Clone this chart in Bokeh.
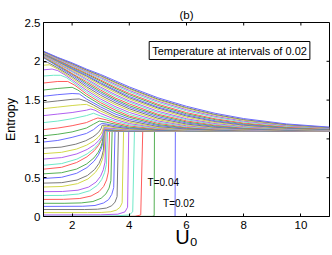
import math
from bokeh.plotting import figure
from bokeh.models import Range1d, FixedTicker, Label, ColumnDataSource
from bokeh.embed import file_html
from bokeh.resources import INLINE

# ---------------- data ----------------
temperatures = [0.02, 0.04, 0.06, 0.08, 0.10, 0.12, 0.14, 0.16, 0.18, 0.20,
                0.22, 0.24, 0.26, 0.28, 0.30, 0.32, 0.34, 0.36, 0.38, 0.40,
                0.42, 0.44, 0.46, 0.48, 0.50, 0.52, 0.54, 0.56, 0.58, 0.60,
                0.62, 0.64, 0.66, 0.68, 0.70, 0.72, 0.74, 0.76, 0.78, 0.80,
                0.82, 0.84, 0.86, 0.88, 0.90, 0.92, 0.94, 0.96, 0.98, 1.00]

U_002 = [1, 5.60, 5.61, 11]
S_002 = [0, 0, 1.10, 1.10]
U_004 = [1, 4.80, 4.87, 4.88, 11]
S_004 = [0, 0.002, 0.01, 1.10, 1.10]
U_006 = [1, 4.20, 4.40, 4.47, 11]
S_006 = [0, 0.002, 0.02, 1.10, 1.10]
U_008 = [1, 3.50, 4.00, 4.12, 4.18, 11]
S_008 = [0.005, 0.008, 0.02, 0.06, 1.10, 1.10]
U_010 = [1, 3.00, 3.60, 3.85, 3.94, 3.98, 11]
S_010 = [0.02, 0.022, 0.03, 0.06, 0.12, 1.10, 1.10]
U_012 = [1, 2.54, 3.016, 3.352, 3.548, 3.674, 3.75, 3.80, 11]
S_012 = [0.05, 0.05, 0.052, 0.061, 0.082, 0.118, 0.176, 1.10, 1.10]
U_014 = [1, 2.441, 2.886, 3.201, 3.384, 3.502, 3.573, 3.62, 11]
S_014 = [0.09, 0.09, 0.094, 0.109, 0.138, 0.186, 0.256, 1.10, 1.10]
U_016 = [1, 2.375, 2.80, 3.10, 3.275, 3.388, 3.455, 3.50, 11]
S_016 = [0.13, 0.132, 0.142, 0.174, 0.217, 0.285, 0.373, 1.10, 1.10]
U_018 = [1, 1.72, 2.32, 2.728, 3.016, 3.184, 3.292, 3.357, 3.40, 11]
S_018 = [0.17, 0.17, 0.175, 0.193, 0.235, 0.292, 0.366, 0.463, 1.10, 1.10]
U_020 = [1, 1.693, 2.271, 2.663, 2.940, 3.102, 3.206, 3.268, 3.31, 11]
S_020 = [0.22, 0.221, 0.232, 0.264, 0.32, 0.387, 0.471, 0.572, 1.10, 1.10]
U_022 = [1, 1.672, 2.232, 2.613, 2.882, 3.038, 3.139, 3.200, 3.24, 11]
S_022 = [0.27, 0.272, 0.29, 0.332, 0.401, 0.478, 0.569, 0.673, 1.10, 1.10]
U_024 = [1, 1.657, 2.205, 2.577, 2.840, 2.993, 3.091, 3.150, 3.19, 11]
S_024 = [0.32, 0.322, 0.339, 0.379, 0.444, 0.517, 0.602, 0.700, 1.103, 1.10]
U_026 = [1, 1.648, 2.188, 2.555, 2.814, 2.966, 3.063, 3.121, 3.16, 4, 11]
S_026 = [0.38, 0.387, 0.423, 0.484, 0.568, 0.650, 0.739, 0.832, 1.105, 1.101, 1.10]
U_028 = [1, 1.639, 2.172, 2.534, 2.789, 2.938, 3.034, 3.092, 3.13, 3.5, 4, 11]
S_028 = [0.43, 0.436, 0.47, 0.528, 0.606, 0.683, 0.766, 0.853, 1.108, 1.103, 1.101, 1.10]
U_030 = [1, 1.633, 2.161, 2.519, 2.772, 2.920, 3.015, 3.072, 3.11, 3.5, 4, 5, 11]
S_030 = [0.49, 0.505, 0.557, 0.630, 0.714, 0.793, 0.869, 0.945, 1.113, 1.106, 1.102, 1.10, 1.10]
U_032 = [1, 1.63, 2.155, 2.512, 2.764, 2.911, 3.006, 3.062, 3.10, 3.5, 4, 5, 11]
S_032 = [0.55, 0.564, 0.611, 0.678, 0.755, 0.827, 0.897, 0.966, 1.12, 1.111, 1.104, 1.10, 1.10]
U_034 = [1, 1.633, 2.161, 2.519, 2.772, 2.920, 3.015, 3.072, 3.11, 3.5, 4, 5, 11]
S_034 = [0.61, 0.634, 0.696, 0.769, 0.848, 0.914, 0.976, 1.032, 1.13, 1.117, 1.107, 1.101, 1.10]
U_036 = [1, 1.636, 2.166, 2.526, 2.781, 2.929, 3.025, 3.082, 3.12, 3.5, 4, 5, 7, 11]
S_036 = [0.66, 0.682, 0.739, 0.807, 0.879, 0.941, 0.997, 1.049, 1.14, 1.124, 1.112, 1.103, 1.10, 1.10]
U_038 = [1, 1.636, 2.166, 2.526, 2.781, 2.929, 3.025, 3.082, 3.12, 3.5, 4, 5, 6, 11]
S_038 = [0.74, 0.759, 0.807, 0.864, 0.925, 0.977, 1.025, 1.068, 1.145, 1.133, 1.117, 1.105, 1.101, 1.10]
U_040 = [1, 1.63, 2.155, 2.512, 2.764, 2.911, 3.006, 3.062, 3.10, 3.3, 3.5, 4, 5, 6, 11]
S_040 = [0.81, 0.827, 0.869, 0.92, 0.975, 1.021, 1.063, 1.102, 1.165, 1.157, 1.144, 1.124, 1.107, 1.102, 1.10]
U_042 = [1, 1.615, 2.128, 2.476, 2.722, 2.866, 2.958, 3.013, 3.05, 3.2, 3.5, 4, 5, 6, 11]
S_042 = [0.88, 0.894, 0.932, 0.976, 1.024, 1.064, 1.101, 1.135, 1.175, 1.178, 1.155, 1.132, 1.11, 1.104, 1.10]
U_044 = [1, 1.5, 2, 2.5, 2.75, 2.95, 3.05, 3.3, 3.6, 4, 5, 6, 11]
S_044 = [0.96, 0.98, 1.02, 1.07, 1.12, 1.18, 1.20, 1.185, 1.165, 1.141, 1.115, 1.105, 1.10]
U_046 = [1, 1.5, 2, 2.5, 2.75, 2.95, 3.2, 3.5, 4, 5, 6, 7, 11]
S_046 = [1.04, 1.06, 1.09, 1.14, 1.19, 1.23, 1.215, 1.19, 1.151, 1.12, 1.107, 1.103, 1.10]
U_048 = [1, 1.5, 2, 2.5, 2.75, 2.9, 3.2, 3.5, 4, 5, 6, 7, 11]
S_048 = [1.12, 1.14, 1.17, 1.21, 1.25, 1.27, 1.245, 1.208, 1.167, 1.125, 1.11, 1.104, 1.10]
U_050 = [1, 1.5, 2, 2.5, 2.75, 3, 3.5, 4, 5, 6, 7, 8, 11]
S_050 = [1.21, 1.23, 1.26, 1.30, 1.33, 1.295, 1.23, 1.182, 1.133, 1.113, 1.105, 1.102, 1.10]
U_052 = [1, 1.5, 2, 2.5, 2.65, 2.8, 3, 3.5, 4, 5, 6, 7, 8, 11]
S_052 = [1.30, 1.32, 1.34, 1.37, 1.385, 1.37, 1.328, 1.252, 1.198, 1.141, 1.118, 1.107, 1.103, 1.10]
U_054 = [1, 1.5, 2, 2.3, 2.5, 2.75, 3, 3.5, 4, 5, 6, 7, 8, 11]
S_054 = [1.39, 1.41, 1.43, 1.44, 1.445, 1.405, 1.358, 1.275, 1.216, 1.148, 1.122, 1.11, 1.105, 1.10]
U_056 = [1, 1.5, 2, 2.25, 2.5, 2.75, 3, 3.5, 4, 5, 6, 7, 8, 11]
S_056 = [1.47, 1.49, 1.51, 1.515, 1.485, 1.436, 1.385, 1.294, 1.234, 1.159, 1.127, 1.113, 1.106, 1.10]
U_058 = [1, 1.5, 2, 2.25, 2.5, 3, 3.5, 4, 5, 6, 7, 8, 9.5, 11]
S_058 = [1.55, 1.57, 1.585, 1.58, 1.515, 1.412, 1.322, 1.256, 1.173, 1.134, 1.117, 1.108, 1.103, 1.10]
U_060 = [1, 1.5, 2, 2.2, 2.5, 3, 3.5, 4, 5, 6, 7, 8, 9.5, 11]
S_060 = [1.63, 1.65, 1.665, 1.63, 1.551, 1.44, 1.349, 1.278, 1.185, 1.141, 1.121, 1.11, 1.104, 1.10]
U_062 = [1, 1.5, 1.85, 2.1, 2.5, 3, 3.5, 4, 5, 6, 7, 8, 9.5, 11]
S_062 = [1.72, 1.74, 1.74, 1.69, 1.579, 1.466, 1.374, 1.295, 1.201, 1.148, 1.125, 1.113, 1.104, 1.10]
U_064 = [1, 1.35, 1.6, 1.8, 2, 2.5, 3, 3.5, 4, 5, 6, 7, 8, 9.5, 11]
S_064 = [1.81, 1.82, 1.82, 1.79, 1.738, 1.604, 1.489, 1.396, 1.317, 1.214, 1.159, 1.13, 1.116, 1.106, 1.102]
U_066 = [1, 1.3, 1.5, 1.75, 2, 2.5, 3, 3.5, 4, 5, 6, 7, 8, 9.5, 11]
S_066 = [1.89, 1.90, 1.88, 1.825, 1.76, 1.628, 1.513, 1.418, 1.341, 1.231, 1.169, 1.136, 1.119, 1.107, 1.103]
U_068 = [1, 1.2, 1.5, 2, 2.5, 3, 3.5, 4, 5, 6, 7, 8, 9.5, 11]
S_068 = [1.95, 1.955, 1.90, 1.782, 1.652, 1.537, 1.445, 1.366, 1.248, 1.18, 1.143, 1.124, 1.109, 1.104]
U_070 = [1, 1.15, 1.5, 2, 2.5, 3, 3.5, 4, 5, 6, 7, 8, 9.5, 11]
S_070 = [1.99, 1.985, 1.915, 1.801, 1.674, 1.562, 1.468, 1.388, 1.266, 1.192, 1.15, 1.128, 1.112, 1.105]

# shared U grid for the high-temperature curves
U_GRID = [1, 1.5, 2, 2.5, 3, 3.5, 4, 5, 6, 7, 8, 9.5, 11]
S_072 = [2.046, 1.933, 1.82, 1.698, 1.587, 1.491, 1.409, 1.285, 1.205, 1.159, 1.134, 1.115, 1.106]
S_074 = [2.053, 1.945, 1.836, 1.718, 1.608, 1.51, 1.429, 1.303, 1.218, 1.168, 1.139, 1.118, 1.108]
S_076 = [2.061, 1.957, 1.842, 1.738, 1.629, 1.529, 1.451, 1.318, 1.232, 1.177, 1.143, 1.121, 1.109]
S_078 = [2.069, 1.969, 1.862, 1.758, 1.65, 1.554, 1.473, 1.339, 1.247, 1.187, 1.15, 1.124, 1.111]
S_080 = [2.076, 1.978, 1.874, 1.774, 1.667, 1.573, 1.49, 1.357, 1.26, 1.198, 1.159, 1.128, 1.114]
S_082 = [2.084, 1.989, 1.887, 1.794, 1.691, 1.598, 1.512, 1.38, 1.278, 1.211, 1.169, 1.133, 1.117]
S_084 = [2.09, 1.998, 1.90, 1.81, 1.71, 1.618, 1.53, 1.398, 1.295, 1.224, 1.177, 1.138, 1.12]
S_086 = [2.095, 2.004, 1.910, 1.822, 1.724, 1.632, 1.547, 1.411, 1.308, 1.233, 1.185, 1.143, 1.122]
S_088 = [2.10, 2.012, 1.922, 1.837, 1.744, 1.652, 1.569, 1.431, 1.324, 1.248, 1.195, 1.147, 1.125]
S_090 = [2.105, 2.018, 1.932, 1.848, 1.758, 1.667, 1.586, 1.447, 1.339, 1.259, 1.204, 1.154, 1.129]
S_092 = [2.11, 2.027, 1.945, 1.861, 1.777, 1.688, 1.608, 1.469, 1.361, 1.277, 1.217, 1.163, 1.134]
S_094 = [2.115, 2.033, 1.954, 1.872, 1.792, 1.705, 1.625, 1.486, 1.377, 1.291, 1.229, 1.170, 1.138]
S_096 = [2.12, 2.04, 1.964, 1.883, 1.806, 1.722, 1.642, 1.503, 1.393, 1.305, 1.24, 1.178, 1.143]
S_098 = [2.125, 2.044, 1.970, 1.889, 1.816, 1.733, 1.653, 1.514, 1.404, 1.315, 1.249, 1.184, 1.147]
S_100 = [2.13, 2.05, 1.98, 1.90, 1.83, 1.75, 1.67, 1.53, 1.42, 1.33, 1.262, 1.193, 1.152]

curves_u = [U_002, U_004, U_006, U_008, U_010, U_012, U_014, U_016, U_018, U_020,
            U_022, U_024, U_026, U_028, U_030, U_032, U_034, U_036, U_038, U_040,
            U_042, U_044, U_046, U_048, U_050, U_052, U_054, U_056, U_058, U_060,
            U_062, U_064, U_066, U_068, U_070] + [U_GRID] * 15
curves_s = [S_002, S_004, S_006, S_008, S_010, S_012, S_014, S_016, S_018, S_020,
            S_022, S_024, S_026, S_028, S_030, S_032, S_034, S_036, S_038, S_040,
            S_042, S_044, S_046, S_048, S_050, S_052, S_054, S_056, S_058, S_060,
            S_062, S_064, S_066, S_068, S_070, S_072, S_074, S_076, S_078, S_080,
            S_082, S_084, S_086, S_088, S_090, S_092, S_094, S_096, S_098, S_100]

# MATLAB-like colour order b, g, r, c, m, y, k (as they appear, lightened)
color_cycle = ["#6b6bff", "#55b055", "#ff5c5c", "#6fe8c8", "#b060f0", "#d2d84a", "#7a7a7a"]

x_ticks = [2, 4, 6, 8, 10]
x_tick_labels = ["2", "4", "6", "8", "10"]
y_ticks = [0, 0.5, 1, 1.5, 2, 2.5]
y_tick_labels = ["0", "0.5", "1", "1.5", "2", "2.5"]
x_min, x_max = 1, 11
y_min, y_max = 0, 2.5

FONT = "Liberation Sans"

# ---------------- figure ----------------
p = figure(width=332, height=255, output_backend="svg", toolbar_location=None,
           x_range=Range1d(x_min, x_max), y_range=Range1d(y_min, y_max),
           min_border_left=39, min_border_right=3, min_border_top=22, min_border_bottom=39)
p.background_fill_color = "white"
p.border_fill_color = "white"
p.outline_line_color = "black"
p.outline_line_width = 1
p.grid.visible = False

p.title.text = "(b)"
p.title.align = "center"
p.title.text_font = FONT
p.title.text_font_size = "11.5px"
p.title.text_font_style = "normal"
p.title.text_color = "black"
p.title.standoff = 3

colors = [color_cycle[i % 7] for i in range(len(temperatures))]
src = ColumnDataSource(dict(xs=curves_u, ys=curves_s, color=colors, T=temperatures))
p.multi_line(xs="xs", ys="ys", line_color="color", line_width=1, source=src)

for ax, ticks, labels in ((p.xaxis[0], x_ticks, x_tick_labels), (p.yaxis[0], y_ticks, y_tick_labels)):
    ax.ticker = FixedTicker(ticks=ticks)
    ax.major_label_overrides = {t: l for t, l in zip(ticks, labels)}
    ax.major_tick_in = 3
    ax.major_tick_out = 0
    ax.minor_tick_line_color = None
    ax.axis_line_color = "black"
    ax.major_tick_line_color = "black"
    ax.major_label_text_font = FONT
    ax.major_label_text_font_size = "11.5px"
    ax.major_label_text_color = "black"
    ax.axis_label_text_font = FONT
    ax.axis_label_text_font_style = "normal"
    ax.axis_label_text_color = "black"

p.xaxis[0].major_label_standoff = 4
p.xaxis[0].axis_label = "U\u2080"
p.xaxis[0].axis_label_text_font_size = "20px"
p.xaxis[0].axis_label_standoff = -6

p.yaxis[0].major_label_standoff = 3
p.yaxis[0].axis_label = "Entropy"
p.yaxis[0].axis_label_text_font_size = "12.5px"
p.yaxis[0].axis_label_standoff = 4

# inward ticks on the top and right edges of the box (MATLAB "box on")
tick_dy = (y_max - y_min) * 3 / 194
tick_dx = (x_max - x_min) * 3 / 290
p.segment(x0=x_ticks, y0=[y_max] * len(x_ticks), x1=x_ticks, y1=[y_max - tick_dy] * len(x_ticks),
          line_color="black", line_width=1)
p.segment(x0=[x_max] * len(y_ticks), y0=y_ticks, x1=[x_max - tick_dx] * len(y_ticks), y1=y_ticks,
          line_color="black", line_width=1)

# texts inside the axes
p.add_layout(Label(x=7.505, y=2.139, text="Temperature at intervals of 0.02", text_align="center",
                   text_baseline="middle", text_font=FONT, text_font_size="11px", text_color="black",
                   border_line_color="black", border_line_width=1, background_fill_color="white",
                   padding=3))
p.add_layout(Label(x=4.64, y=0.438, text="T=0.04", text_align="left", text_baseline="middle",
                   text_font=FONT, text_font_size="10px", text_color="black"))
p.add_layout(Label(x=5.18, y=0.168, text="T=0.02", text_align="left", text_baseline="middle",
                   text_font=FONT, text_font_size="10px", text_color="black"))

open("out.html", "w").write(file_html(p, INLINE))
